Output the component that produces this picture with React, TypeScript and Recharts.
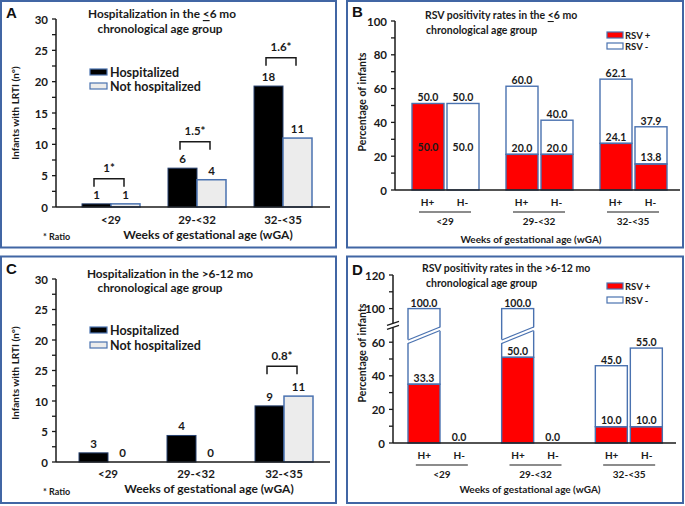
import React from 'react'
import { ComposedChart, Bar, Line, XAxis, YAxis } from 'recharts'

const FONT = 'Lato, "Open Sans", sans-serif'
const INK = '#1a1a1a'
const FRAME = '#4166a4'
const EDGE = '#4a72b0'
const RED = '#ff0000'
const PALE = '#ececec'

// gestational age groups (weeks)
const ageGroups = ['<29', '29-<32', '32-<35']
const hGroups = ['H+', 'H-']

// A: <=6 mo, infants with LRTI (bar heights as drawn, numbers as printed)
const aHosp = [0.5, 6.2, 19.3]
const aNotHosp = [0.5, 4.35, 11.0]
const aHospText = ['1', '6', '18']
const aNotHospText = ['1', '4', '11']
const aRatio = [4.5, 10.4, 23.8]
const aRatioText = ['1*', '1.5*', '1.6*']

// C: >6-12 mo
const cHosp = [1.5, 4.35, 9.2]
const cNotHosp = [0, 0, 10.8]
const cHospText = ['3', '4', '9']
const cNotHospText = ['0', '0', '11']
const cRatio = [null, null, 15.7]
const cRatioText = ['', '', '0.8*']

const countTicks = [0, 2.5, 5, 7.5, 10, 12.5, 15, 17.5, 20, 22.5, 25, 27.5, 30]
const aTickText: Record<string, string> = { 0: '0', 5: '5', 10: '10', 15: '15', 20: '20', 25: '25', 30: '30' }
// panel C prints "25" at the 15 mark
const cTickText: Record<string, string> = { 0: '0', 5: '5', 10: '10', 15: '25', 20: '20', 25: '25', 30: '30' }

// B: <=6 mo, RSV positivity (%), H+ / H- per group
const bHpPos = [51.2, 21.1, 27.6]
const bHpAll = [51.2, 61.4, 65.6]
const bHmPos = [0, 21.1, 15.4]
const bHmAll = [51.2, 41.3, 37.4]
const bHpTop = ['50.0', '60.0', '62.1']
const bHpIn = ['50.0', '20.0', '24.1']
const bHmTop = ['50.0', '40.0', '37.9']
const bHmIn = ['50.0', '20.0', '13.8']

// D: >6-12 mo
const dHpPos = [35, 51, 9.7]
const dHpAll = [100, 100, 46]
const dHmPos = [0, 0, 9.7]
const dHmAll = [0, 0, 56.5]
const dHpTop = ['100.0', '100.0', '45.0']
const dHpIn = ['33.3', '50.0', '10.0']
const dHmTop = ['0.0', '0.0', '55.0']
const dHmIn = ['', '', '10.0']

const pctTicks = [0, 10, 20, 30, 40, 50, 60, 70, 80, 90, 100]
const bTickText: Record<string, string> = { 0: '0', 20: '20', 40: '40', 60: '60', 80: '80', 100: '100' }
// D axis is broken between 60 and 100
const dTickText: Record<string, string> = { 0: '0', 20: '20', 40: '40', 60: '60', 80: '100', 100: '120' }
const D_BREAK_FROM = 60
const D_BREAK_GAP = 20
const D_BREAK_TICK = 70
const D_BAR_BREAK = 64

const countLegend = ['Hospitalized', 'Not hospitalized']
const countLegendFill = ['#000', PALE]
const rsvLegend = ['RSV +', 'RSV -']
const rsvLegendFill = [RED, '#fff']

const same = (v: number) => v
const dShown = (v: number) => (v > D_BREAK_FROM ? v - D_BREAK_GAP : v)

const countRows = (hosp: number[], notHosp: number[], hospText: string[], notHospText: string[], ratio: (number | null)[], ratioText: string[]) =>
  ageGroups.map((group, i) => ({
    group,
    hosp: hosp[i],
    notHosp: notHosp[i],
    hospText: hospText[i],
    notHospText: notHospText[i],
    ratio: ratio[i],
    ratioText: ratioText[i],
  }))

const rsvRows = (
  hpPos: number[], hpAll: number[], hmPos: number[], hmAll: number[],
  hpTop: string[], hpIn: string[], hmTop: string[], hmIn: string[],
  shown: (v: number) => number
) =>
  ageGroups.map((group, i) => ({
    group,
    hpRed: shown(hpPos[i]),
    hpRest: shown(hpAll[i]) - shown(hpPos[i]),
    hpAll: hpAll[i],
    hpTop: hpTop[i],
    hpIn: hpIn[i],
    hmRed: shown(hmPos[i]),
    hmRest: shown(hmAll[i]) - shown(hmPos[i]),
    hmAll: hmAll[i],
    hmTop: hmTop[i],
    hmIn: hmIn[i],
  }))

const aRows = countRows(aHosp, aNotHosp, aHospText, aNotHospText, aRatio, aRatioText)
const cRows = countRows(cHosp, cNotHosp, cHospText, cNotHospText, cRatio, cRatioText)
const bRows = rsvRows(bHpPos, bHpAll, bHmPos, bHmAll, bHpTop, bHpIn, bHmTop, bHmIn, same)
const dRows = rsvRows(dHpPos, dHpAll, dHmPos, dHmAll, dHpTop, dHpIn, dHmTop, dHmIn, dShown)

const TICK = 4
const TICK_GAP = 4
const RSV_BAR = 32
const RSV_GAP = 3

const bold = { fontFamily: FONT, fontWeight: 700, fill: INK }

function makeYTick(tickText: Record<string, string>, breakAt?: number) {
  return (p: any) => {
    const { x, y, payload } = p
    const ax = x + TICK + TICK_GAP
    if (breakAt !== undefined && payload.value === breakAt) {
      return (
        <g>
          <polygon points={`${ax - 6},${y + 4} ${ax + 6},${y} ${ax + 6},${y - 4} ${ax - 6},${y}`} fill="#fff" />
          <line x1={ax - 6} y1={y + 4} x2={ax + 6} y2={y} stroke={INK} strokeWidth={1.2} />
          <line x1={ax - 6} y1={y} x2={ax + 6} y2={y - 4} stroke={INK} strokeWidth={1.2} />
        </g>
      )
    }
    const t = tickText[String(payload.value)]
    return (
      <g>
        <line x1={ax - TICK} x2={ax} y1={y} y2={y} stroke={INK} strokeWidth={1.3} />
        {t !== undefined && (
          <text x={ax - TICK - 4} y={y} textAnchor="end" dominantBaseline="central" fontSize={11.5} {...bold}>
            {t}
          </text>
        )}
      </g>
    )
  }
}

const countTick = (dy: number) => (p: any) => (
  <text x={p.x} y={p.y + dy} textAnchor="middle" dominantBaseline="central" fontSize={11.5} {...bold}>
    {p.payload.value}
  </text>
)

const rsvTick = (p: any) => {
  const { x, y, payload } = p
  const half = (RSV_BAR + RSV_GAP) / 2
  return (
    <g>
      {hGroups.map((h, i) => (
        <text key={h} x={x + (i === 0 ? -half : half)} y={y + 12} textAnchor="middle" dominantBaseline="central" fontSize={10} {...bold}>
          {h}
        </text>
      ))}
      <line x1={x - 26} x2={x + 26} y1={y + 22} y2={y + 22} stroke={INK} strokeWidth={1.2} />
      <text x={x} y={y + 31} textAnchor="middle" dominantBaseline="central" fontSize={10} {...bold}>
        {payload.value}
      </text>
    </g>
  )
}

const bracketDot = (p: any) => {
  const { cx, cy, payload, index } = p
  if (payload.ratio == null || cy == null) return <g key={`b-${index}`} />
  const x = cx - 2
  return (
    <g key={`b-${index}`}>
      <path d={`M${x - 15},${cy + 8} V${cy} H${x + 15} V${cy + 8}`} fill="none" stroke={INK} strokeWidth={1.5} />
      <text x={x} y={cy - 11} textAnchor="middle" dominantBaseline="central" fontSize={11.5} {...bold}>
        {payload.ratioText}
      </text>
    </g>
  )
}

// count bar with its printed number above it (drawn even for zero-height bars)
const countShape = (textKey: string, fill: string, stroke: string, strokeWidth: number) => (p: any) => {
  const { x, y, width, height, payload } = p
  return (
    <g>
      {height > 0 && <rect x={x} y={y} width={width} height={height} fill={fill} stroke={stroke} strokeWidth={strokeWidth} />}
      <text x={x + width / 2} y={y - 9.5} textAnchor="middle" dominantBaseline="central" fontSize={11.5} {...bold}>
        {payload[textKey]}
      </text>
    </g>
  )
}

const valueText = (x: number, y: number, s: string) => (
  <text x={x} y={y} textAnchor="middle" dominantBaseline="central" fontSize={10.5} {...bold}>
    {s}
  </text>
)

const redShape = (k: string) => (p: any) => {
  const { x, y, width, height, payload } = p
  const red = payload[k + 'Red']
  const rest = payload[k + 'Rest']
  const txt = payload[k + 'In']
  return (
    <g>
      {height > 0 && <rect x={x} y={y} width={width} height={height} fill={RED} stroke={EDGE} strokeWidth={1.4} />}
      {red > 0 && txt ? valueText(x + width / 2, rest < 8 ? y + height / 2 : y - 6.5, txt) : null}
    </g>
  )
}

const restShape = (k: string, breakFrom?: number, breakAt?: number) => (p: any) => {
  const { x, y, width, height, payload } = p
  const red = payload[k + 'Red']
  const rest = payload[k + 'Rest']
  const cx = x + width / 2
  let brk = null
  if (breakFrom !== undefined && breakAt !== undefined && payload[k + 'All'] > breakFrom && height > 0) {
    const ppu = height / rest
    const yc = y + (red + rest - breakAt) * ppu
    const l = x - 1.5
    const r = x + width + 1.5
    brk = (
      <g>
        <polygon points={`${l},${yc + 8} ${r},${yc - 5} ${r},${yc - 8.5} ${l},${yc + 4.5}`} fill="#fff" />
        <line x1={x} y1={yc + 8} x2={x + width} y2={yc - 5} stroke={EDGE} strokeWidth={1.3} />
        <line x1={x} y1={yc + 4.5} x2={x + width} y2={yc - 8.5} stroke={EDGE} strokeWidth={1.3} />
      </g>
    )
  }
  return (
    <g>
      {height > 0 && <rect x={x} y={y} width={width} height={height} fill="none" stroke={EDGE} strokeWidth={1.4} />}
      {brk}
      {valueText(cx, y - 6, payload[k + 'Top'])}
      {red === 0 && payload[k + 'In'] ? valueText(cx, y + height / 2, payload[k + 'In']) : null}
    </g>
  )
}

function CountChart({ rows, tickText, left, top, height, margin, pad, tickDy }: any) {
  return (
    <div style={{ position: 'absolute', left, top }}>
      <ComposedChart width={338} height={height} data={rows} margin={margin} barGap={0}>
        <XAxis
          dataKey="group"
          type="category"
          height={30}
          interval={0}
          padding={pad}
          tickLine={false}
          tickSize={0}
          tickMargin={0}
          axisLine={{ stroke: INK, strokeWidth: 1.5 }}
          tick={countTick(tickDy)}
        />
        <YAxis
          type="number"
          domain={[0, 30]}
          ticks={countTicks}
          interval={0}
          width={56}
          tickLine={false}
          tickSize={TICK}
          tickMargin={TICK_GAP}
          axisLine={{ stroke: INK, strokeWidth: 1.5 }}
          tick={makeYTick(tickText)}
        />
        <Bar dataKey="hosp" barSize={29} shape={countShape('hospText', '#000', '#27406e', 1)} isAnimationActive={false} />
        <Bar dataKey="notHosp" barSize={29} shape={countShape('notHospText', PALE, EDGE, 1.5)} isAnimationActive={false} />
        <Line dataKey="ratio" stroke="none" dot={bracketDot} activeDot={false} legendType="none" isAnimationActive={false} />
      </ComposedChart>
    </div>
  )
}

function RsvChart({ rows, tickText, breakTick, barBreak, left, top, height, margin, yWidth, pad }: any) {
  const from = breakTick !== undefined ? D_BREAK_FROM : undefined
  return (
    <div style={{ position: 'absolute', left, top }}>
      <ComposedChart width={342} height={height} data={rows} margin={margin} barGap={RSV_GAP}>
        <XAxis
          dataKey="group"
          type="category"
          height={45}
          interval={0}
          padding={pad}
          tickLine={false}
          tickSize={0}
          tickMargin={0}
          axisLine={{ stroke: INK, strokeWidth: 1.5 }}
          tick={rsvTick}
        />
        <YAxis
          type="number"
          domain={[0, 100]}
          ticks={pctTicks}
          interval={0}
          width={yWidth}
          tickLine={false}
          tickSize={TICK}
          tickMargin={TICK_GAP}
          axisLine={{ stroke: INK, strokeWidth: 1.5 }}
          tick={makeYTick(tickText, breakTick)}
        />
        <Bar dataKey="hpRed" stackId="hp" barSize={RSV_BAR} shape={redShape('hp')} isAnimationActive={false} />
        <Bar dataKey="hpRest" stackId="hp" barSize={RSV_BAR} shape={restShape('hp', from, barBreak)} isAnimationActive={false} />
        <Bar dataKey="hmRed" stackId="hm" barSize={RSV_BAR} shape={redShape('hm')} isAnimationActive={false} />
        <Bar dataKey="hmRest" stackId="hm" barSize={RSV_BAR} shape={restShape('hm', from, barBreak)} isAnimationActive={false} />
      </ComposedChart>
    </div>
  )
}

const T = ({ x, y, size, anchor = 'middle', rotate, children }: any) => (
  <text
    x={x}
    y={y}
    fontSize={size}
    textAnchor={anchor}
    dominantBaseline="central"
    transform={rotate ? `rotate(${rotate} ${x} ${y})` : undefined}
    {...bold}
  >
    {children}
  </text>
)

const Letter = ({ x, y, children }: any) => (
  <text x={x} y={y} fontSize={15} fontWeight={700} fontFamily="'Liberation Sans', Arial, sans-serif" fill="#111">
    {children}
  </text>
)

const le = <tspan style={{ textDecoration: 'underline' }}>{'<'}</tspan>

function Notes() {
  return (
    <svg width={685} height={506} style={{ position: 'absolute', left: 0, top: 0, pointerEvents: 'none' }}>
      <rect x={1} y={1} width={335} height={246.5} fill="none" stroke={FRAME} strokeWidth={2} />
      <rect x={347} y={1} width={336} height={246.5} fill="none" stroke={FRAME} strokeWidth={2} />
      <rect x={1} y={256.5} width={335} height={246.5} fill="none" stroke={FRAME} strokeWidth={2} />
      <rect x={347} y={256.5} width={336} height={246.5} fill="none" stroke={FRAME} strokeWidth={2} />

      <Letter x={6} y={17.5}>A</Letter>
      <Letter x={352} y={17}>B</Letter>
      <Letter x={6} y={274}>C</Letter>
      <Letter x={352} y={274.5}>D</Letter>

      <T x={162} y={13} size={11.8}>Hospitalization in the {le}6 mo</T>
      <T x={160} y={28} size={11.8}>chronological age group</T>
      <T x={170} y={273} size={11.8}>Hospitalization in the &gt;6-12 mo</T>
      <T x={160} y={287.5} size={11.8}>chronological age group</T>

      <T x={425} y={15} size={10.5} anchor="start">RSV positivity rates in the {le}6 mo</T>
      <T x={426} y={30} size={10.5} anchor="start">chronological age group</T>
      <T x={422} y={268} size={10.5} anchor="start">RSV positivity rates in the &gt;6-12 mo</T>
      <T x={426} y={283} size={10.5} anchor="start">chronological age group</T>

      <T x={15} y={113} size={10} rotate={-90}>Infants with LRTI (n°)</T>
      <T x={15} y={373} size={10} rotate={-90}>Infants with LRTI (n°)</T>
      <T x={362} y={102} size={10.5} rotate={-90}>Percentage of infants</T>
      <T x={362} y={353} size={10.5} rotate={-90}>Percentage of infants</T>

      <T x={208} y={234.5} size={12}>Weeks of gestational age (wGA)</T>
      <T x={209} y={488} size={12}>Weeks of gestational age (wGA)</T>
      <T x={531} y={238.5} size={10}>Weeks of gestational age (wGA)</T>
      <T x={530} y={489} size={10}>Weeks of gestational age (wGA)</T>

      <T x={43} y={236} size={9} anchor="start">* Ratio</T>
      <T x={43} y={491.5} size={9} anchor="start">* Ratio</T>

      {countLegend.map((name, i) => (
        <g key={`a-${name}`}>
          <rect x={90} y={69 + i * 14} width={17} height={6} fill={countLegendFill[i]} stroke={EDGE} strokeWidth={1.2} />
          <T x={110} y={72 + i * 14} size={12.5} anchor="start">{name}</T>
        </g>
      ))}
      {countLegend.map((name, i) => (
        <g key={`c-${name}`}>
          <rect x={90} y={327 + i * 15} width={17} height={6} fill={countLegendFill[i]} stroke={EDGE} strokeWidth={1.2} />
          <T x={110} y={330 + i * 15} size={12.5} anchor="start">{name}</T>
        </g>
      ))}
      {rsvLegend.map((name, i) => (
        <g key={`b-${name}`}>
          <rect x={607} y={32 + i * 11} width={16} height={6} fill={rsvLegendFill[i]} stroke={EDGE} strokeWidth={1.2} />
          <T x={625} y={35 + i * 11} size={9.5} anchor="start">{name}</T>
        </g>
      ))}
      {rsvLegend.map((name, i) => (
        <g key={`d-${name}`}>
          <rect x={607} y={283 + i * 14} width={16} height={6} fill={rsvLegendFill[i]} stroke={EDGE} strokeWidth={1.2} />
          <T x={625} y={286 + i * 14} size={9.5} anchor="start">{name}</T>
        </g>
      ))}
    </svg>
  )
}

export default function App() {
  return (
    <div style={{ position: 'absolute', left: 0, top: 0, width: 685, height: 506, background: '#fff', overflow: 'hidden' }}>
      <CountChart
        rows={aRows}
        tickText={aTickText}
        left={0}
        top={0}
        height={249}
        margin={{ top: 19, right: 8, bottom: 12, left: 0 }}
        pad={{ left: 12, right: 4 }}
        tickDy={12}
      />
      <RsvChart
        rows={bRows}
        tickText={bTickText}
        left={343}
        top={0}
        height={249}
        margin={{ top: 21, right: 5, bottom: 14, left: 0 }}
        yWidth={52}
        pad={{ left: 3, right: 0 }}
      />
      <CountChart
        rows={cRows}
        tickText={cTickText}
        left={0}
        top={253}
        height={253}
        margin={{ top: 26, right: 8, bottom: 14, left: 0 }}
        pad={{ left: 8, right: 2 }}
        tickDy={11}
      />
      <RsvChart
        rows={dRows}
        tickText={dTickText}
        breakTick={D_BREAK_TICK}
        barBreak={D_BAR_BREAK}
        left={343}
        top={253}
        height={253}
        margin={{ top: 22, right: 9, bottom: 18, left: 0 }}
        yWidth={50}
        pad={{ left: 2, right: 0 }}
      />
      <Notes />
    </div>
  )
}
